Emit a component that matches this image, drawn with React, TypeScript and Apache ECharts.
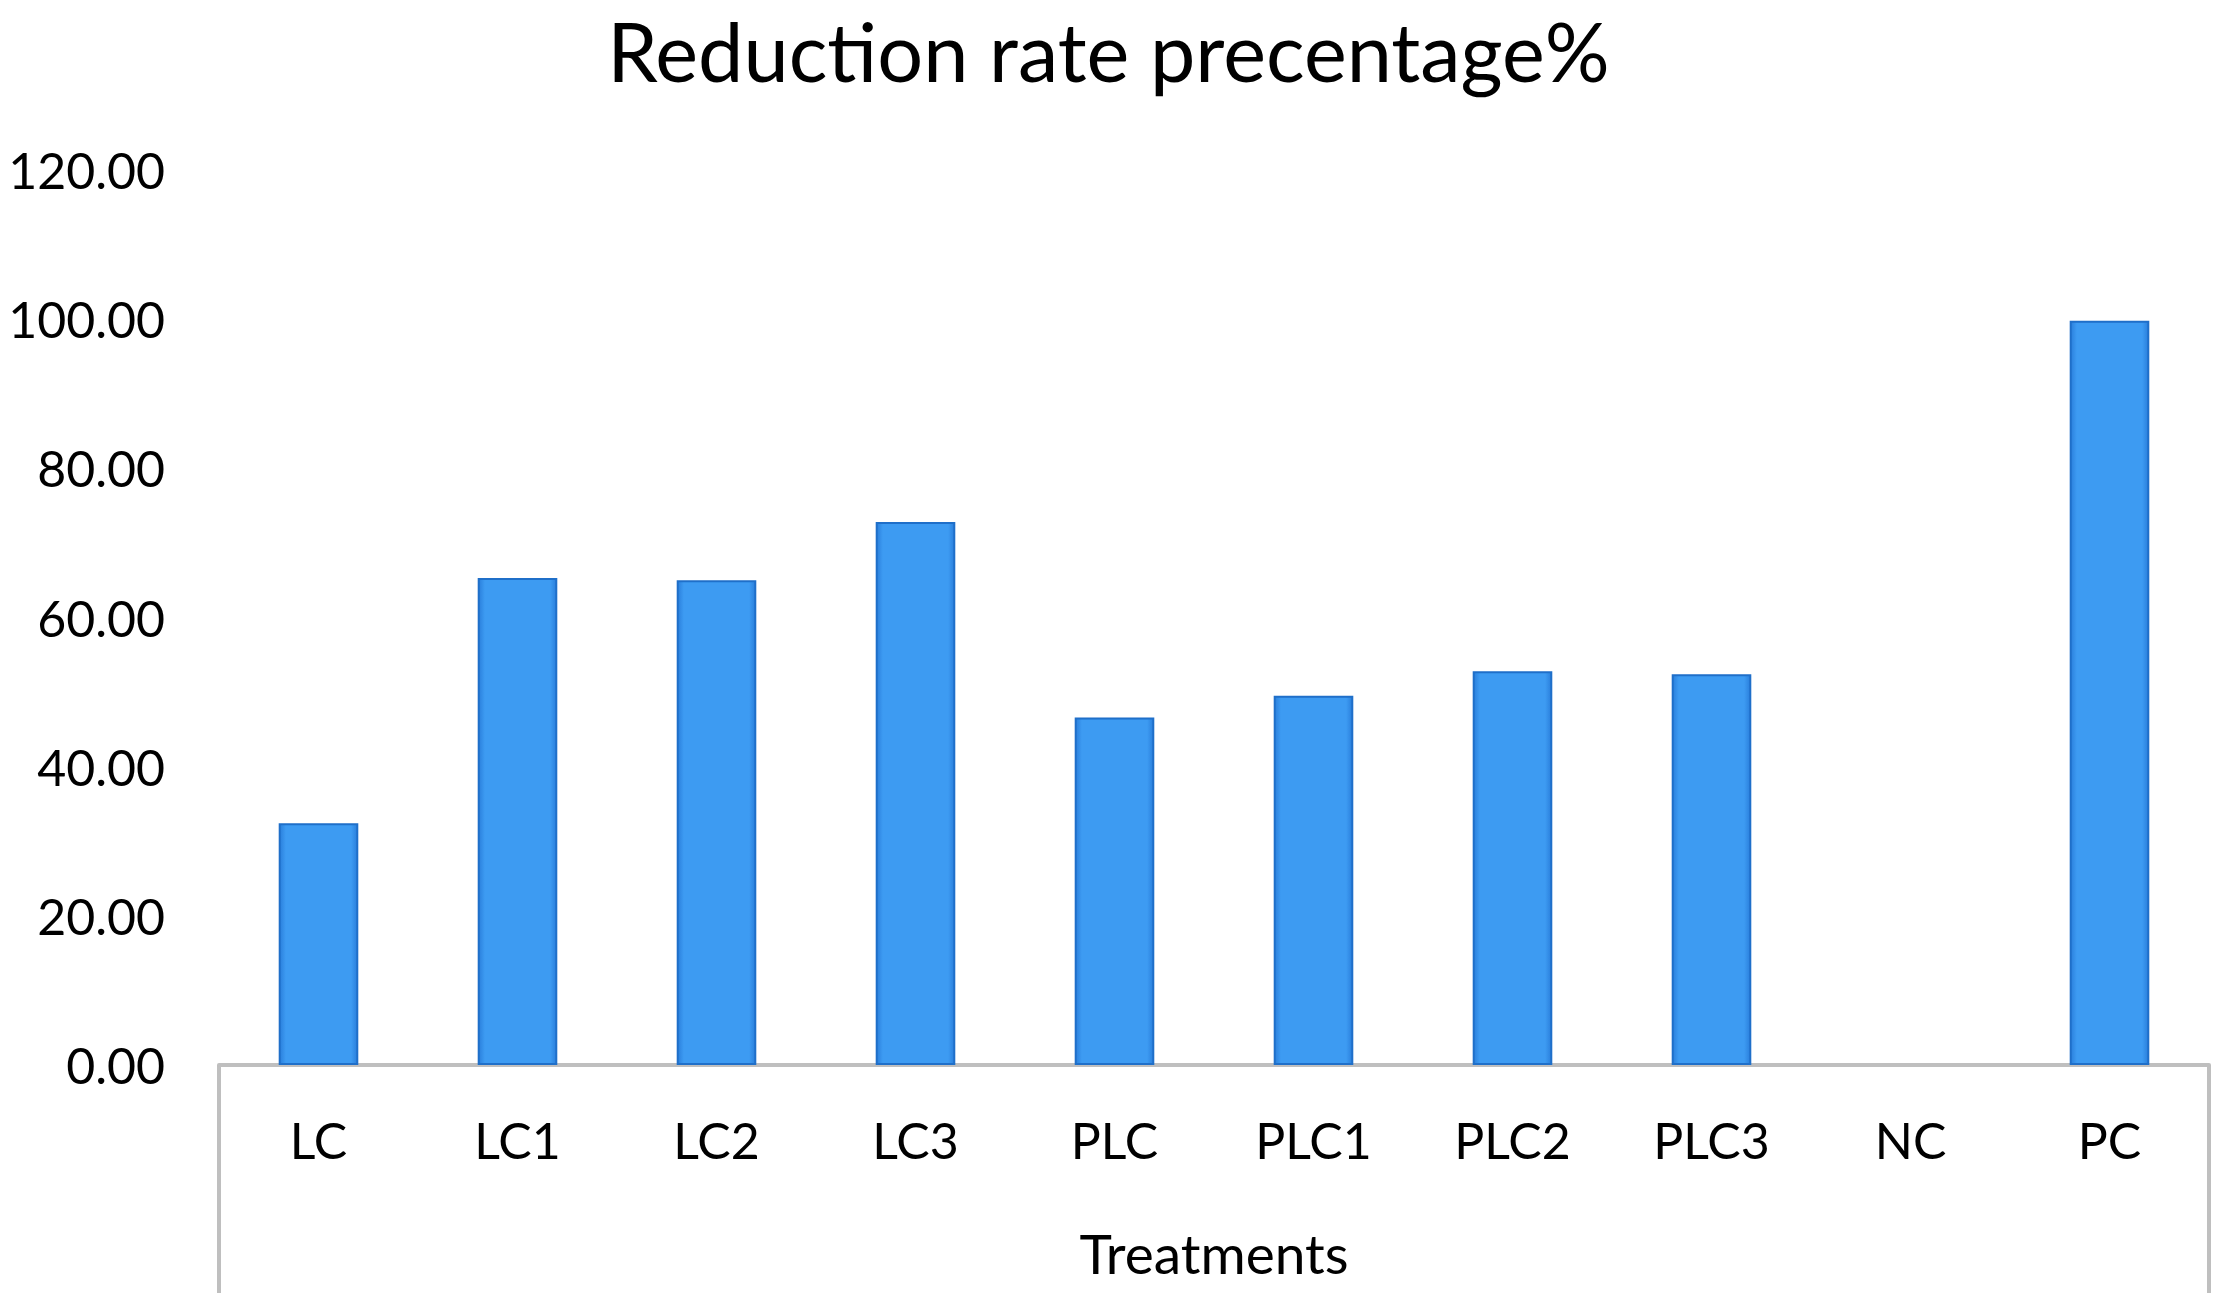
import React, { useEffect, useRef } from "react";
import * as echarts from "echarts";

const categories = ["LC", "LC1", "LC2", "LC3", "PLC", "PLC1", "PLC2", "PLC3", "NC", "PC"];
const reductionValues = [32.4, 65.3, 65.0, 72.8, 46.6, 49.5, 52.8, 52.4, 0, 99.8];
const yTicks = { min: 0, max: 120, interval: 20 };
const titleText = "Reduction rate precentage%";
const xAxisName = "Treatments";

const W = 2217;
const H = 1300;
const GRID = { left: 219, right: 8, top: 170, bottom: 235 };
const FONT = "Lato, 'Open Sans', sans-serif";

export default function App() {
  const ref = useRef<HTMLDivElement>(null);
  useEffect(() => {
    if (!ref.current) return;
    const chart = echarts.init(ref.current, undefined, { renderer: "svg" });
    const axisY = H - GRID.bottom;
    const lineStyle = { stroke: "#bfbfbf", lineWidth: 4 };
    const barFill = {
      type: "linear",
      x: 0,
      y: 0,
      x2: 1,
      y2: 0,
      colorStops: [
        { offset: 0, color: "#2a7fdc" },
        { offset: 0.08, color: "#3d9bf2" },
        { offset: 0.92, color: "#3d9bf2" },
        { offset: 1, color: "#2a7fdc" },
      ],
    };
    chart.setOption({
      animation: false,
      backgroundColor: "#ffffff",
      title: {
        text: titleText,
        left: "center",
        top: 10,
        padding: 0,
        textStyle: { fontFamily: FONT, fontSize: 81, lineHeight: 81, fontWeight: "normal", color: "#000" },
      },
      grid: GRID,
      xAxis: {
        type: "category",
        data: categories,
        axisLine: { show: true, lineStyle: { color: "#bfbfbf", width: 4 } },
        axisTick: { show: false },
        axisLabel: { fontFamily: FONT, fontSize: 50, color: "#000", margin: 50 },
        name: xAxisName,
        nameLocation: "middle",
        nameGap: 160,
        nameTextStyle: { fontFamily: FONT, fontSize: 55, color: "#000" },
      },
      yAxis: {
        type: "value",
        min: yTicks.min,
        max: yTicks.max,
        interval: yTicks.interval,
        axisLine: { show: false },
        axisTick: { show: false },
        splitLine: { show: false },
        axisLabel: {
          fontFamily: FONT,
          fontSize: 50,
          color: "#000",
          margin: 54,
          formatter: (v: number) => v.toFixed(2),
        },
      },
      series: [
        {
          type: "bar",
          data: reductionValues.map((v) => ({
            value: v,
            itemStyle: v === 0 ? { borderWidth: 0, opacity: 0 } : undefined,
          })),
          barCategoryGap: "60%",
          itemStyle: {
            color: barFill,
            borderColor: "#1f6fc9",
            borderWidth: 2,
          },
        },
      ],
      graphic: [
        { type: "line", shape: { x1: GRID.left, y1: axisY, x2: GRID.left, y2: 1293 }, style: lineStyle, silent: true },
        { type: "line", shape: { x1: W - GRID.right, y1: axisY, x2: W - GRID.right, y2: 1293 }, style: lineStyle, silent: true },
      ],
    });
    return () => chart.dispose();
  }, []);
  return (
    <div
      ref={ref}
      style={{ position: "absolute", left: 0, top: 0, width: W, height: H, background: "#fff" }}
    />
  );
}
